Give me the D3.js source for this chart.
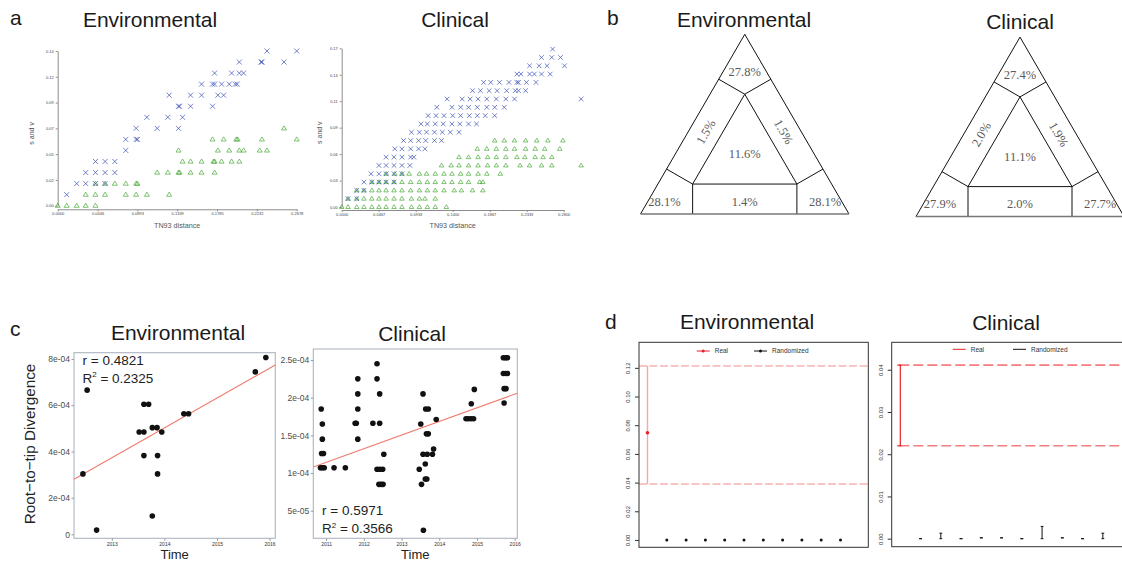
<!DOCTYPE html>
<html>
<head>
<meta charset="utf-8">
<script src="https://cdn.jsdelivr.net/npm/d3@7"></script>
<style>
  body { margin: 0; background: #fff; }
  svg { display: block; font-family: "Liberation Sans", Arial, sans-serif; }
</style>
</head>
<body>
<div id="fig"></div>
<script>
// ---------- panel a : s and v against TN93 distance ----------
// each row: [s-or-v value, [TN93 distances]]
var envSnvBlue = [
  [0.14, [0.2345, 0.2678]],
  [0.13, [0.2035, 0.2278, 0.2290, 0.2536]],
  [0.12, [0.1758, 0.1949, 0.2035, 0.2083]],
  [0.11, [0.1612, 0.1735, 0.1758, 0.1836, 0.1922, 0.1990, 0.2012]],
  [0.10, [0.1249, 0.1489, 0.1612, 0.1795, 0.1859]],
  [0.09, [0.1354, 0.1365, 0.1489, 0.1735]],
  [0.08, [0.0999, 0.1234, 0.1399]],
  [0.07, [0.0879, 0.1115, 0.1354]],
  [0.06, [0.0763, 0.0879, 0.0894]],
  [0.05, [0.0763]],
  [0.04, [0.0423, 0.0531, 0.0640]],
  [0.03, [0.0314, 0.0423, 0.0531, 0.0640]],
  [0.02, [0.0213, 0.0314, 0.0423, 0.0531]],
  [0.01, [0.0101]]
];
var envSnvGreen = [
  [0.07, [0.2536]],
  [0.06, [0.1735, 0.1859, 0.2001, 0.2016, 0.2289, 0.2678]],
  [0.05, [0.1354, 0.1795, 0.1922, 0.2035, 0.2083, 0.2263, 0.2345]],
  [0.04, [0.1399, 0.1489, 0.1612, 0.1747, 0.1758, 0.1836, 0.1949, 0.2035]],
  [0.03, [0.1115, 0.1234, 0.1354, 0.1365, 0.1489, 0.1612, 0.1758]],
  [0.02, [0.0423, 0.0531, 0.0640, 0.0763, 0.0879, 0.0894]],
  [0.01, [0.0314, 0.0423, 0.0531, 0.0763, 0.0879, 0.0999, 0.1249]],
  [0.00, [0.0000, 0.0101, 0.0213, 0.0314, 0.0423]]
];
var envSnvXTicks = ["0.0000", "0.0446", "0.0893", "0.1339", "0.1785", "0.2232", "0.2678"];
var envSnvYTicks = ["0.00", "0.02", "0.05", "0.07", "0.09", "0.12", "0.14"];

var clinSnvBlue = [
  [0.1691, [0.266]],
  [0.1602, [0.252, 0.265, 0.276]],
  [0.1513, [0.237, 0.249, 0.259, 0.281]],
  [0.1424, [0.221, 0.226, 0.237, 0.243, 0.252, 0.263]],
  [0.1335, [0.179, 0.188, 0.199, 0.211, 0.221, 0.223, 0.233, 0.245]],
  [0.1246, [0.165, 0.175, 0.186, 0.196, 0.208, 0.219, 0.223, 0.232]],
  [0.1157, [0.133, 0.152, 0.162, 0.172, 0.183, 0.195, 0.207, 0.218, 0.302]],
  [0.1068, [0.120, 0.139, 0.150, 0.160, 0.171, 0.183, 0.193, 0.205]],
  [0.0979, [0.109, 0.119, 0.129, 0.140, 0.150, 0.161, 0.171, 0.181, 0.193]],
  [0.0890, [0.100, 0.108, 0.118, 0.128, 0.139, 0.149, 0.160, 0.170]],
  [0.0801, [0.088, 0.098, 0.107, 0.117, 0.127, 0.137, 0.148]],
  [0.0712, [0.078, 0.087, 0.097, 0.106, 0.117, 0.126]],
  [0.0623, [0.067, 0.076, 0.087, 0.097, 0.105]],
  [0.0534, [0.056, 0.066, 0.076, 0.087, 0.091]],
  [0.0445, [0.047, 0.056, 0.066, 0.076, 0.086]],
  [0.0356, [0.037, 0.047, 0.056, 0.066, 0.076]],
  [0.0267, [0.028, 0.038, 0.047, 0.056, 0.066]],
  [0.0178, [0.019, 0.028]],
  [0.0089, [0.008, 0.019]]
];
var clinSnvGreen = [
  [0.0712, [0.193, 0.205, 0.218, 0.232, 0.246, 0.260, 0.279]],
  [0.0623, [0.171, 0.183, 0.195, 0.207, 0.218, 0.232, 0.244, 0.256, 0.275]],
  [0.0534, [0.148, 0.160, 0.172, 0.184, 0.195, 0.207, 0.221, 0.231, 0.244, 0.254, 0.265]],
  [0.0445, [0.126, 0.138, 0.148, 0.160, 0.172, 0.184, 0.195, 0.207, 0.225, 0.237, 0.252, 0.265, 0.302]],
  [0.0356, [0.056, 0.067, 0.076, 0.085, 0.098, 0.107, 0.118, 0.129, 0.139, 0.150, 0.160, 0.172, 0.183, 0.200]],
  [0.0267, [0.038, 0.047, 0.056, 0.066, 0.076, 0.087, 0.098, 0.108, 0.118, 0.129, 0.139, 0.150, 0.160, 0.174, 0.178]],
  [0.0178, [0.019, 0.028, 0.038, 0.047, 0.056, 0.066, 0.076, 0.087, 0.098, 0.108, 0.118, 0.129, 0.142, 0.151, 0.165, 0.178]],
  [0.0089, [0.008, 0.019, 0.028, 0.038, 0.047, 0.056, 0.066, 0.076, 0.088, 0.098, 0.105, 0.118]],
  [0.0000, [0.000, 0.008, 0.019, 0.028, 0.038, 0.047, 0.056, 0.066, 0.076, 0.088, 0.098, 0.108, 0.118, 0.132]]
];
var clinSnvXTicks = ["0.0000", "0.0467", "0.0933", "0.1400", "0.1867", "0.2333", "0.2800"];
var clinSnvYTicks = ["0.00", "0.03", "0.06", "0.09", "0.11", "0.14", "0.17"];

// ---------- panel b : likelihood mapping (%) ----------
var mapRegions = ["top", "left", "center", "right", "bottomLeft", "bottom", "bottomRight"];
var envMapPct  = [27.8, 1.5, 11.6, 1.5, 28.1, 1.4, 28.1];
var clinMapPct = [27.4, 2.0, 11.1, 1.9, 27.9, 2.0, 27.7];

// ---------- panel c : root-to-tip divergence (units of 1e-4) ----------
var envRttTime = [2012.45, 2012.53, 2012.71, 2013.52, 2013.61, 2013.61, 2013.70, 2013.61, 2013.77,
                  2013.86, 2013.77, 2013.87, 2013.87, 2013.95, 2014.37, 2014.46, 2015.73, 2015.93];
var envRttDiv  = [3.03, 6.65, 0.23, 4.84, 4.84, 6.04, 6.04, 3.82, 5.03,
                  5.03, 1.00, 3.82, 3.03, 4.84, 5.63, 5.63, 7.44, 8.06];
var envFitTime = [2012.28, 2016.11];
var envFitDiv  = [2.80, 7.74];
var envRttYTicks = [0, 2, 4, 6, 8];
var envRttYLabels = ["0", "2e-04", "4e-04", "6e-04", "8e-04"];
var envRttXTicks = [2013, 2014, 2015, 2016];

var clinRttTime = [2010.87, 2010.90, 2010.90, 2010.88, 2010.93, 2010.85, 2010.90, 2010.95, 2011.21, 2011.51,
                   2011.77, 2011.80, 2011.84, 2011.84, 2011.84, 2011.84, 2012.24, 2012.35, 2012.35, 2012.42,
                   2012.42, 2012.35, 2012.42, 2012.50, 2012.53, 2012.40, 2012.46, 2012.51, 2013.47, 2013.51,
                   2013.53, 2013.57, 2013.57, 2013.68, 2013.58, 2013.63, 2013.63, 2013.67, 2013.64, 2013.71,
                   2013.66, 2013.71, 2013.82, 2013.85, 2013.92, 2014.71, 2014.77, 2014.84, 2014.91, 2014.85,
                   2014.93, 2015.70, 2015.76, 2015.81, 2015.70, 2015.76, 2015.81, 2015.72, 2015.77, 2015.72];
var clinRttDiv  = [1.85, 1.65, 1.45, 1.26, 1.26, 1.07, 1.07, 1.07, 1.07, 1.07,
                   1.66, 1.66, 2.25, 2.05, 1.85, 1.45, 1.66, 2.45, 2.25, 2.05,
                   1.66, 1.05, 1.05, 1.05, 1.25, 0.85, 0.85, 0.85, 1.05, 1.65,
                   0.85, 2.05, 1.25, 1.25, 0.24, 1.12, 0.92, 0.92, 1.85, 1.85,
                   1.52, 1.52, 1.25, 1.32, 1.71, 1.72, 1.72, 1.72, 1.72, 1.92,
                   2.11, 2.53, 2.53, 2.53, 2.32, 2.32, 2.32, 2.12, 2.12, 1.93];
var clinFitTime = [2010.66, 2016.07];
var clinFitDiv  = [1.08, 2.06];
var clinRttYTicks = [0.5, 1, 1.5, 2, 2.5];
var clinRttYLabels = ["5e-05", "1e-04", "1.5e-04", "2e-04", "2.5e-04"];
var clinRttXTicks = [2011, 2012, 2013, 2014, 2015, 2016];

// ---------- panel d : date randomization ----------
var envRealMid = 0.0748, envRealLo = 0.039, envRealHi = 0.1213;
var envRandMid = [0, 0, 0, 0, 0, 0, 0, 0, 0, 0];
var envRandLo  = [0, 0, 0, 0, 0, 0, 0, 0, 0, 0];
var envRandHi  = [0, 0, 0, 0, 0, 0, 0, 0, 0, 0];
var envPermYTicks = [0, 0.02, 0.04, 0.06, 0.08, 0.10, 0.12];

var clinRealMid = null, clinRealLo = 0.0220, clinRealHi = 0.0411;
var clinRandLo = [0, 0, 0, 0.0002, 0.0002, 0, 0, 0.0002, 0, 0];
var clinRandHi = [0, 0.0013, 0, 0.0002, 0.0002, 0, 0.0029, 0.0002, 0, 0.0013];
var clinPermYTicks = [0, 0.01, 0.02, 0.03, 0.04];

// =====================================================================
var svg = d3.select("#fig").append("svg").attr("width", 1122).attr("height", 561);

function txt(x, y, s, size, o) {
  o = o || {};
  return svg.append("text").attr("x", x).attr("y", y).text(s)
    .attr("font-size", size)
    .attr("text-anchor", o.anchor || "start")
    .attr("fill", o.fill || "#1a1a1a")
    .attr("font-family", o.family || "Liberation Sans, Arial, sans-serif")
    .attr("transform", o.rotate ? "rotate(" + o.rotate + "," + x + "," + y + ")" : null);
}

// panel letters and titles
txt(10, 25, "a", 21);
txt(607, 25, "b", 21);
txt(10, 336, "c", 21);
txt(605, 329, "d", 21);
txt(150, 27, "Environmental", 21, {anchor: "middle"});
txt(455, 27, "Clinical", 21, {anchor: "middle"});
txt(744, 27, "Environmental", 21, {anchor: "middle"});
txt(1020, 29, "Clinical", 21, {anchor: "middle"});
txt(178, 340, "Environmental", 21, {anchor: "middle"});
txt(412, 341, "Clinical", 21, {anchor: "middle"});
txt(747, 329, "Environmental", 21, {anchor: "middle"});
txt(1006, 330, "Clinical", 21, {anchor: "middle"});

// ---------------- panel a ----------------
function drawSnv(p) {
  var x = d3.scaleLinear().domain(p.xDom).range(p.xRange);
  var y = d3.scaleLinear().domain(p.yDom).range(p.yRange);
  var g = svg.append("g");
  var yStep = (p.yDom[1] - p.yDom[0]) / (p.yLabels.length - 1);
  var xStep = (p.xDom[1] - p.xDom[0]) / (p.xLabels.length - 1);

  var yAx = g.append("g").attr("transform", "translate(" + p.xRange[0] + ",0)")
    .call(d3.axisLeft(y).tickValues(p.yLabels.map(function (d, i) { return i * yStep; }))
      .tickFormat(function (d, i) { return p.yLabels[i]; }).tickSize(2).tickSizeOuter(0).tickPadding(2));
  var xAx = g.append("g").attr("transform", "translate(0," + p.xAxisY + ")")
    .call(d3.axisBottom(x).tickValues(p.xLabels.map(function (d, i) { return i * xStep; }))
      .tickFormat(function (d, i) { return p.xLabels[i]; }).tickSize(2).tickSizeOuter(0).tickPadding(1));
  [yAx, xAx].forEach(function (a) {
    a.select(".domain").attr("stroke", "#8c8c8c");
    a.selectAll(".tick line").attr("stroke", "#8c8c8c");
    a.selectAll("text").attr("font-size", 4).attr("fill", "#444").attr("font-family", "Liberation Sans, Arial");
  });

  var flat = function (rows) {
    return rows.flatMap(function (r) { return r[1].map(function (v) { return {x: v, y: r[0]}; }); });
  };
  var h = p.mark;
  g.selectAll(".tri").data(flat(p.green)).enter().append("path")
    .attr("d", "M0," + (-h) + "L" + h + "," + (h * 0.65) + "L" + (-h) + "," + (h * 0.65) + "Z")
    .attr("transform", function (d) { return "translate(" + x(d.x) + "," + y(d.y) + ")"; })
    .attr("fill", "none").attr("stroke", "#3aa326").attr("stroke-opacity", 0.68).attr("stroke-width", 0.95);
  g.selectAll(".cross").data(flat(p.blue)).enter().append("path")
    .attr("d", "M" + (-h) + "," + (-h) + "L" + h + "," + h + "M" + (-h) + "," + h + "L" + h + "," + (-h))
    .attr("transform", function (d) { return "translate(" + x(d.x) + "," + y(d.y) + ")"; })
    .attr("fill", "none").attr("stroke", "#3448b4").attr("stroke-opacity", 0.68).attr("stroke-width", 1);

  txt(p.ylabX, (p.yRange[0] + p.yRange[1]) / 2 + 5, "s and v", 7, {anchor: "middle", rotate: -90, fill: "#555"});
  txt((p.xRange[0] + p.xRange[1]) / 2, 227.5, "TN93 distance", 7.2, {anchor: "middle", fill: "#555"});
}

drawSnv({xDom: [0, 0.2678], xRange: [57.7, 296.7], yDom: [0, 0.14], yRange: [205.7, 51],
  xAxisY: 209.3, xLabels: envSnvXTicks, yLabels: envSnvYTicks, blue: envSnvBlue, green: envSnvGreen,
  mark: 2.5, ylabX: 34});
drawSnv({xDom: [0, 0.28], xRange: [341.7, 563.7], yDom: [0, 0.17], yRange: [207, 48.3],
  xAxisY: 210, xLabels: clinSnvXTicks, yLabels: clinSnvYTicks, blue: clinSnvBlue, green: clinSnvGreen,
  mark: 2.3, ylabX: 322});

// ---------------- panel b ----------------
// positions inside the triangle in barycentric weights (apex, left, right)
var labelWeights = {
  top: [0.79, 0.105, 0.105], left: [0.458, 0.458, 0.084], center: [1 / 3, 1 / 3, 1 / 3],
  right: [0.458, 0.084, 0.458], bottomLeft: [0.07, 0.85, 0.08], bottom: [0.07, 0.465, 0.465],
  bottomRight: [0.07, 0.08, 0.85]
};
var labelRotate = {left: -60, right: 60};

function drawMap(p, pct) {
  // horizontal: 0 = left corner, 1 = right corner; vertical: 0 = base, 1 = apex
  var sx = d3.scaleLinear().domain([0, 1]).range([p.left, p.left + p.w]);
  var sy = d3.scaleLinear().domain([0, 1]).range([p.base, p.base - p.h]);
  var pt = function (w) { return [sx(w[2] + w[0] / 2), sy(w[0])]; };
  var g = svg.append("g");
  var line = d3.line();
  var A = [1, 0, 0], B = [0, 1, 0], C = [0, 0, 1];
  var iA = [2 / 3, 1 / 6, 1 / 6], iB = [1 / 6, 2 / 3, 1 / 6], iC = [1 / 6, 1 / 6, 2 / 3];
  var segs = [
    [A, B], [A, C], [iA, iB, iC, iA],
    [iA, [0.75, 0.25, 0]], [iA, [0.75, 0, 0.25]],
    [iB, [0.25, 0.75, 0]], [iB, [0, 0.75, 0.25]],
    [iC, [0.25, 0, 0.75]], [iC, [0, 0.25, 0.75]]
  ];
  g.selectAll(".seg").data(segs).enter().append("path")
    .attr("d", function (s) { return line(s.map(pt)); })
    .attr("fill", "none").attr("stroke", "#111").attr("stroke-width", 1);
  g.append("path").attr("d", line([B, C].map(pt))).attr("stroke", "#777").attr("stroke-width", 1.6);

  g.selectAll(".pct").data(mapRegions).enter().append("text")
    .attr("transform", function (r, i) {
      var q = pt(labelWeights[r]);
      return "translate(" + q[0] + "," + q[1] + ") rotate(" + (labelRotate[r] || 0) + ")";
    })
    .attr("text-anchor", "middle").attr("dy", "0.35em")
    .attr("font-family", "Liberation Serif, Times New Roman, serif").attr("font-size", 12.5)
    .attr("fill", "#5a5a5a")
    .text(function (r, i) { return d3.format(".1f")(pct[i]) + "%"; });
}
drawMap({left: 640.5, w: 208.5, base: 214, h: 179.7}, envMapPct);
drawMap({left: 916, w: 208, base: 216.5, h: 179.4}, clinMapPct);

// ---------------- panel c ----------------
function drawRtt(p) {
  var x = d3.scaleLinear().domain(p.xDom).range([p.x0, p.x1]);
  var y = d3.scaleLinear().domain(p.yDom).range(p.yRange);
  var g = svg.append("g");
  g.append("rect").attr("x", p.x0).attr("y", p.y0).attr("width", p.x1 - p.x0).attr("height", p.y1 - p.y0)
    .attr("fill", "none").attr("stroke", "#aeb5c2").attr("stroke-width", 1.1);
  var yAx = g.append("g").attr("transform", "translate(" + p.x0 + ",0)")
    .call(d3.axisLeft(y).tickValues(p.yTicks).tickFormat(function (d, i) { return p.yLabels[i]; })
      .tickSize(2.5).tickPadding(1.5));
  var xAx = g.append("g").attr("transform", "translate(0," + p.y1 + ")")
    .call(d3.axisBottom(x).tickValues(p.xTicks).tickFormat(d3.format("d")).tickSize(2.5).tickPadding(1.5));
  [yAx, xAx].forEach(function (a) {
    a.select(".domain").remove();
    a.selectAll(".tick line").attr("stroke", "#999");
  });
  yAx.selectAll("text").attr("font-size", 8.5).attr("fill", "#4d4d4d").attr("font-family", "Liberation Sans, Arial");
  xAx.selectAll("text").attr("font-size", 5).attr("fill", "#333").attr("font-family", "Liberation Sans, Arial");

  g.append("line")
    .attr("x1", x(p.fitX[0])).attr("y1", y(p.fitY[0]))
    .attr("x2", x(p.fitX[1])).attr("y2", y(p.fitY[1]))
    .attr("stroke", "#f07a6c").attr("stroke-width", 1.1);
  g.selectAll(".pt").data(p.time).enter().append("circle")
    .attr("cx", function (d) { return x(d); })
    .attr("cy", function (d, i) { return y(p.div[i]); })
    .attr("r", 2.8).attr("fill", "#111");

  txt(p.rX, p.rY, p.rText, 13.5, {fill: "#222"});
  var t = svg.append("text").attr("x", p.rX).attr("y", p.rY + 18).attr("font-size", 13.5).attr("fill", "#222");
  t.append("tspan").text("R");
  t.append("tspan").attr("font-size", 8).attr("dy", -5.5).text("2");
  t.append("tspan").attr("dy", 5.5).text(" = " + p.r2Text);
  txt((p.x0 + p.x1) / 2, 559, "Time", 13, {anchor: "middle", fill: "#222"});
}
drawRtt({xDom: [2012.28, 2016.11], x0: 74, x1: 275.3, y0: 352.7, y1: 538.3,
  yDom: [-0.22, 0, 2, 8.27], yRange: [538.3, 534.3, 497.7, 352.7],
  yTicks: envRttYTicks, yLabels: envRttYLabels, xTicks: envRttXTicks,
  time: envRttTime, div: envRttDiv, fitX: envFitTime, fitY: envFitDiv,
  rX: 82.5, rY: 364.5, rText: "r = 0.4821", r2Text: "0.2325"});
drawRtt({xDom: [2010.66, 2016.07], x0: 313.3, x1: 517.3, y0: 349, y1: 538.3,
  yDom: [0.134, 2.646], yRange: [538.3, 349],
  yTicks: clinRttYTicks, yLabels: clinRttYLabels, xTicks: clinRttXTicks,
  time: clinRttTime, div: clinRttDiv, fitX: clinFitTime, fitY: clinFitDiv,
  rX: 322, rY: 515, rText: "r = 0.5971", r2Text: "0.3566"});
txt(29.5, 444, "Root\u2212to\u2212tip Divergence", 15.3, {anchor: "middle", rotate: -90, fill: "#222"}).attr("dy", "0.35em");

// ---------------- panel d ----------------
function drawPerm(p) {
  var x = d3.scaleLinear().domain(p.xDom).range([p.x0, p.x1]);
  var y = d3.scaleLinear().domain(p.yDom).range([p.y1, p.y0]);
  var g = svg.append("g");
  var yAx = g.append("g").attr("transform", "translate(" + p.x0 + ",0)")
    .call(d3.axisLeft(y).tickValues(p.yTicks).tickFormat(d3.format(".2f")).tickSize(4).tickSizeOuter(0));
  yAx.select(".domain").remove();
  yAx.selectAll(".tick line").attr("stroke", "#333");
  yAx.selectAll("text").attr("x", null).attr("dy", null)
    .attr("transform", "translate(-9,0) rotate(-90)").attr("text-anchor", "middle")
    .attr("font-size", 6).attr("fill", "#333").attr("font-family", "Liberation Sans, Arial");

  var dashX0 = p.dashFromBar ? x(1) - 1 : p.x0;
  [p.realLo, p.realHi].forEach(function (v) {
    g.append("line").attr("x1", dashX0).attr("x2", p.x1).attr("y1", y(v)).attr("y2", y(v))
      .attr("stroke", p.dashColor).attr("stroke-width", p.dashWidth).attr("stroke-dasharray", p.dash);
  });
  g.append("line").attr("x1", x(1)).attr("x2", x(1)).attr("y1", y(p.realLo)).attr("y2", y(p.realHi))
    .attr("stroke", p.barColor).attr("stroke-width", p.barWidth);
  if (p.capRed) {
    [p.realLo, p.realHi].forEach(function (v) {
      g.append("line").attr("x1", x(1) - 3).attr("x2", x(1) + 1).attr("y1", y(v)).attr("y2", y(v))
        .attr("stroke", p.barColor).attr("stroke-width", 1.2);
    });
  }
  if (p.realMid != null) {
    g.append("circle").attr("cx", x(1)).attr("cy", y(p.realMid)).attr("r", 1.8).attr("fill", "#e8202a");
  }
  var idx = d3.range(2, 2 + p.randLo.length);
  var bars = g.selectAll(".rb").data(idx).enter().append("g");
  bars.append("line").attr("x1", function (d) { return x(d); }).attr("x2", function (d) { return x(d); })
    .attr("y1", function (d, i) { return y(p.randLo[i]); }).attr("y2", function (d, i) { return y(p.randHi[i]); })
    .attr("stroke", "#111").attr("stroke-width", 1);
  if (p.randCaps) {
    ["randLo", "randHi"].forEach(function (k) {
      bars.append("line").attr("x1", function (d) { return x(d) - 1.4; }).attr("x2", function (d) { return x(d) + 1.4; })
        .attr("y1", function (d, i) { return y(p[k][i]); }).attr("y2", function (d, i) { return y(p[k][i]); })
        .attr("stroke", "#111").attr("stroke-width", 1);
    });
  }
  if (p.randMid) {
    bars.append("circle").attr("cx", function (d) { return x(d); })
      .attr("cy", function (d, i) { return y(p.randMid[i]); }).attr("r", 1.5).attr("fill", "#111");
  }
  g.append("rect").attr("x", p.x0).attr("y", p.y0).attr("width", p.x1 - p.x0).attr("height", p.y1 - p.y0)
    .attr("fill", "none").attr("stroke", "#333").attr("stroke-width", 1);

  // legend
  var L = p.legend;
  var items = [{c: "#e8202a", x: L.x1, label: "Real"}, {c: "#111", x: L.x2, label: "Randomized"}];
  items.forEach(function (it) {
    g.append("line").attr("x1", it.x).attr("x2", it.x + 13).attr("y1", L.y).attr("y2", L.y)
      .attr("stroke", it.c).attr("stroke-width", 1);
    if (L.dots) g.append("circle").attr("cx", it.x + 6.5).attr("cy", L.y).attr("r", 1.5).attr("fill", it.c);
    g.append("text").attr("x", it.x + 18).attr("y", L.y).attr("dy", "0.35em").attr("font-size", 6.5)
      .attr("fill", "#333").text(it.label);
  });
}
drawPerm({xDom: [0.56, 12.44], x0: 639, x1: 868.3, y0: 342.3, y1: 547.3, yDom: [-0.0051, 0.1378],
  yTicks: envPermYTicks, realMid: envRealMid, realLo: envRealLo, realHi: envRealHi,
  randMid: envRandMid, randLo: envRandLo, randHi: envRandHi, randCaps: false,
  barColor: "#f4a9a9", barWidth: 1.4, capRed: false,
  dashColor: "#f08c8c", dashWidth: 1, dash: "8,2.5", dashFromBar: false,
  legend: {x1: 696.7, x2: 754, y: 351, dots: true}});
drawPerm({xDom: [0.575, 12.44], x0: 891.7, x1: 1132, y0: 342.3, y1: 546.7, yDom: [-0.0019, 0.0465],
  yTicks: clinPermYTicks, realMid: clinRealMid, realLo: clinRealLo, realHi: clinRealHi,
  randMid: null, randLo: clinRandLo, randHi: clinRandHi, randCaps: true,
  barColor: "#e8202a", barWidth: 1.2, capRed: true,
  dashColor: "#f27e7e", dashWidth: 1.7, dash: "10,4", dashFromBar: true,
  legend: {x1: 952.7, x2: 1013, y: 349.3, dots: false}});
</script>
</body>
</html>
